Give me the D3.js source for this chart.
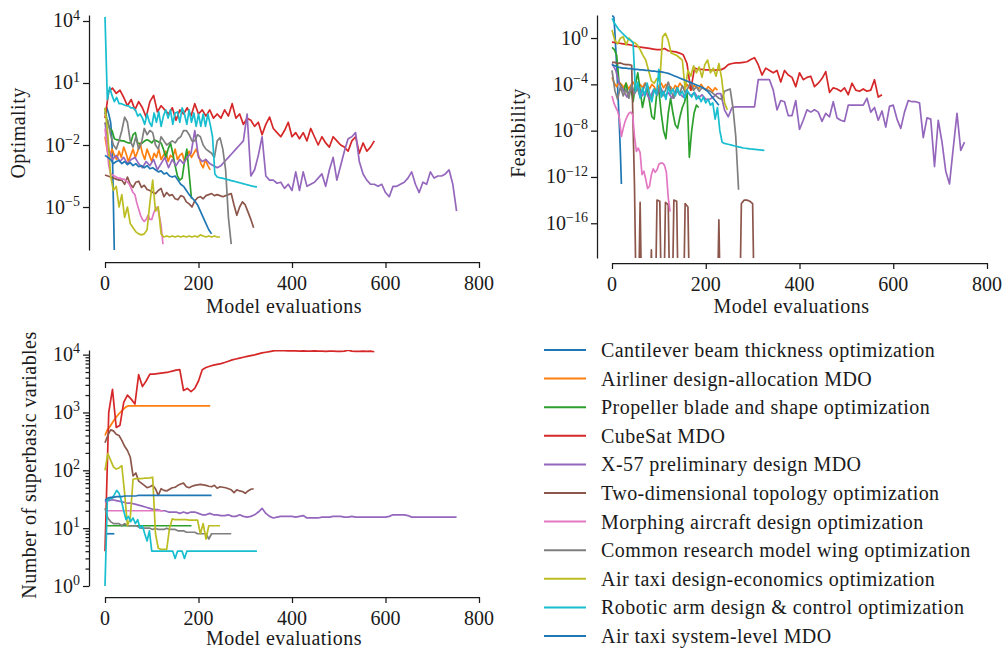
<!DOCTYPE html>
<html>
<head>
<meta charset="utf-8">
<script src="https://cdn.jsdelivr.net/npm/d3@7/dist/d3.min.js"></script>
<style>
  body { margin: 0; background: #fff; }
  svg text { font-family: "Liberation Serif", "DejaVu Serif", serif; fill: #1a1a1a; }
</style>
</head>
<body>
<div id="chart"></div>
<script>
// legend order = drawing order
var problems = [
  "Cantilever beam thickness optimization",
  "Airliner design-allocation MDO",
  "Propeller blade and shape optimization",
  "CubeSat MDO",
  "X-57 preliminary design MDO",
  "Two-dimensional topology optimization",
  "Morphing aircraft design optimization",
  "Common research model wing optimization",
  "Air taxi design-economics optimization",
  "Robotic arm design & control optimization",
  "Air taxi system-level MDO"
];
var colors = ["#1f77b4", "#ff7f0e", "#2ca02c", "#d62728", "#9467bd", "#8c564b",
              "#e377c2", "#7f7f7f", "#bcbd22", "#17becf", "#1f77b4"];
// model evaluations between two stored samples of each problem
var sampleStep = [2, 5, 5, 8, 8, 6, 4, 6, 6, 5, 6];

var xTicks = [0, 200, 400, 600, 800];

// exactly zero feasibility (log10 -> off the bottom of the axis)
var Z = -30;

// ---- optimality, log10 ----
var cantileverOpt = [-0.5,-0.3,-0.2,-0.35,-0.5,-0.7,-0.9,-1.4,-2.6,-4.8,-7.3];
var airlinerOpt = [-1.6,-2.3,-2.6,-2.2,-2.5,-2.7,-2.3,-2.6,-2.1,-2.4,-2.8,-2.5,-2.2,-2.6,-2.3,-1.9,-2.4,-2.7,-2.2,-2.5,
  -2.8,-2.4,-2.6,-2.2,-2.7,-2.5,-2.3,-2.8,-2.5,-2.6,-2.2,-2.7,-2.5,-2.4,-2.8,-2.6,-2.3,-2.6,-2.4,-2.2,-2.5,-2.9,-3.1,-2.7,-3.0,-3.2];
var propellerOpt = [-0.2,-0.9,-1.2,-1.3,-1.7,-1.75,-1.75,-1.8,-1.8,-1.85,-1.9,-1.9,-1.5,-1.4,-1.9,-1.95,-1.9,-1.8,-1.75,-1.8,
  -1.9,-1.75,-1.8,-1.85,-1.9,-2.2,-2.6,-2.2,-1.9,-2.4,-3.0,-3.5,-3.7,-3.6,-2.8,-2.2,-3.4,-4.6];
var cubesatOpt = [-0.7,0.6,0.75,0.5,0.65,0.3,-0.1,0.2,-0.3,0.1,-0.2,-0.65,0.1,0.4,-0.4,-0.1,-0.3,-0.5,-0.2,-0.8,
  -0.3,-0.5,-0.2,-0.6,0.0,-0.5,-0.3,-0.6,-0.3,-0.7,-0.5,-0.7,-0.3,-0.6,0.0,-0.7,-0.5,-1.0,-0.7,-0.8,
  -1.1,-0.9,-1.5,-1.0,-0.65,-1.2,-1.4,-1.6,-1.3,-0.9,-1.6,-1.4,-1.7,-1.4,-1.8,-1.2,-1.6,-2.0,-1.6,-1.9,
  -2.1,-1.6,-1.8,-2.0,-2.1,-2.3,-1.8,-1.6,-2.4,-1.9,-2.3,-2.1,-1.8];
var x57Opt = [-0.9,-2.2,-2.7,-2.5,-2.8,-2.6,-2.9,-2.7,-2.6,-2.9,-3.1,-2.8,-3.0,-2.7,-3.2,-2.9,-2.6,-3.1,-2.7,-3.0,
  -2.7,-2.9,-2.6,-2.4,-1.3,-2.6,-2.8,-2.7,-2.9,-3.0,-3.1,-3.0,-2.8,-2.6,-2.4,-2.2,-2.0,-1.8,-0.5,-3.5,
  -3.2,-2.5,-1.6,-3.5,-3.7,-3.7,-3.85,-3.8,-4.1,-3.9,-4.2,-3.3,-4.2,-3.3,-4.0,-3.9,-3.8,-3.6,-3.4,-4.0,
  -3.2,-2.6,-3.7,-3.0,-2.3,-1.7,-1.6,-1.4,-2.8,-3.4,-3.7,-3.9,-3.9,-4.0,-3.9,-4.3,-4.5,-4.0,-4.0,-3.9,
  -3.8,-3.6,-3.3,-3.9,-4.3,-3.8,-3.9,-3.3,-3.6,-3.5,-3.5,-3.4,-3.2,-3.9,-5.2];
var topologyOpt = [-3.45,-3.5,-3.55,-3.6,-3.65,-3.7,-3.7,-3.9,-3.55,-3.9,-4.05,-3.8,-3.75,-4.05,-3.95,-4.15,-4.2,-4.3,-4.35,-4.2,
  -4.1,-4.5,-4.3,-4.45,-4.4,-4.6,-4.65,-4.45,-4.5,-4.75,-4.85,-5.0,-4.7,-4.55,-4.5,-4.6,-4.45,-4.4,-4.35,-4.45,
  -4.4,-4.45,-4.5,-4.45,-4.4,-4.35,-4.9,-5.4,-5.0,-4.75,-4.9,-5.25,-5.6,-6.0];
var morphingOpt = [-1.2,-2.0,-3.0,-3.4,-3.45,-3.5,-3.55,-3.6,-3.6,-3.65,-3.65,-3.7,-3.8,-3.9,-4.1,-4.3,-4.4,-4.8,-5.1,-5.4,
  -5.6,-5.7,-5.6,-5.4,-5.6,-5.6,-5.3,-5.1,-5.0,-5.4,-5.9,-6.8];
var crmOpt = [-1.0,-0.8,-1.5,-2.0,-2.2,-1.8,-1.3,-0.65,-0.9,-1.8,-2.1,-1.6,-2.2,-1.9,-1.2,-1.5,-1.3,-1.4,-2.0,-2.2,
  -1.6,-1.8,-2.0,-1.9,-1.8,-1.9,-1.7,-1.6,-1.3,-1.3,-1.5,-1.8,-1.8,-1.5,-1.6,-2.0,-2.2,-2.3,-2.4,-2.6,
  -1.8,-1.65,-2.2,-3.2,-5.5,-6.8];
var airTaxiDesignOpt = [-0.2,-1.5,-3.5,-4.2,-4.0,-5.0,-4.4,-5.5,-5.0,-5.8,-6.0,-6.2,-6.3,-6.35,-6.3,-6.1,-4.8,-3.7,-5.2,-5.0,
  -6.3,-6.45,-6.4,-6.45,-6.4,-6.45,-6.4,-6.45,-6.4,-6.45,-6.4,-6.45,-6.4,-6.45,-6.35,-6.4,-6.45,-6.4,-6.45,-6.4,-6.45,-6.45];
var roboticOpt = [4.2,0.2,0.8,0.4,0.1,0.3,0.0,0.0,-0.05,-0.1,-0.1,-0.2,-0.2,-0.3,-0.6,-0.5,-0.7,-1.0,-0.5,-0.9,
  -1.1,-0.45,-0.9,-0.4,-1.1,-0.6,-0.3,-0.7,-0.3,-1.0,-0.45,-0.4,-0.9,-0.2,-0.5,-1.0,-0.3,-0.9,-0.45,-1.1,
  -0.5,-1.1,-0.5,-1.1,-0.5,-1.0,-1.6,-3.4,-3.55,-3.58,-3.6,-3.63,-3.66,-3.69,-3.72,-3.75,-3.78,-3.81,-3.84,-3.87,
  -3.9,-3.93,-3.96,-3.99,-4.01,-4.03];
var airTaxiSystemOpt = [-2.5,-2.6,-2.7,-2.9,-2.8,-2.75,-2.9,-2.8,-2.95,-2.85,-3.0,-2.9,-3.05,-3.0,-3.1,-3.0,-3.15,-3.1,-3.2,-3.3,
  -3.25,-3.4,-3.35,-3.5,-3.55,-3.5,-3.7,-3.9,-4.0,-4.2,-4.4,-4.55,-4.7,-4.9,-5.2,-5.5,-5.8,-6.1,-6.3];

// ---- feasibility, log10 ----
var cantileverFeas = [1.9,1.9,1.8,0.6,-0.9,-2.5,-4.2,-6.0,-7.9,-10.0,-12.6];
var airlinerFeas = [-3.4,-3.9,-4.2,-3.8,-4.0,-4.3,-3.9,-4.4,-4.1,-3.8,-4.2,-4.5,-4.0,-4.3,-3.9,-4.1,-4.4,-4.0,-4.2,-4.6,
  -4.1,-3.9,-4.3,-4.0,-4.4,-4.2,-4.5,-4.1,-4.3,-3.9,-4.2,-4.4,-4.0,-4.3,-4.5,-4.1,-4.2,-4.4,-4.0,-4.3,-4.5,-4.2,-4.4,-4.6,-4.3,-4.5];
var propellerFeas = [-0.8,-1.0,-1.5,-3.8,-4.2,-4.6,-3.9,-5.0,-4.3,-5.5,-4.0,-3.0,-4.5,-6.0,-5.0,-4.2,-5.5,-6.8,-7.0,-5.0,
  -4.5,-6.5,-8.0,-8.7,-6.5,-5.2,-6.5,-7.5,-7.8,-6.8,-6.0,-5.5,-4.5,-10.3,-8.0,-6.5,-5.8,-6.0];
var cubesatFeas = [-0.35,-0.4,-0.45,-0.5,-0.55,-0.6,-0.7,-0.75,-0.8,-0.85,-0.9,-0.95,-1.0,-1.0,-0.9,-1.1,-1.15,-1.2,-1.3,-1.45,
  -2.2,-4.5,-2.6,-2.7,-2.7,-2.75,-2.75,-2.8,-2.75,-2.75,-2.6,-2.3,-2.2,-2.15,-2.15,-2.1,-2.05,-1.85,-1.7,-2.3,
  -3.2,-2.6,-2.8,-3.0,-2.8,-3.8,-2.8,-3.2,-3.4,-4.2,-3.0,-3.6,-3.4,-3.3,-4.2,-3.9,-3.5,-2.9,-4.7,-4.3,
  -4.4,-4.6,-4.3,-4.9,-3.9,-4.5,-4.6,-4.4,-4.6,-4.5,-3.6,-5.1,-4.9];
var x57Feas = [-2.2,-2.8,-4.0,-4.5,-5.1,-4.4,-4.8,-4.2,-5.0,-4.6,-5.3,-4.5,-4.9,-4.3,-5.0,-4.7,-5.2,-4.5,-4.8,-5.1,
  -4.6,-5.0,-4.7,-5.2,-4.9,-5.3,-5.3,-5.1,-4.8,-4.8,-6.2,-6.8,-6.0,-5.95,-5.95,-5.95,-5.95,-5.95,-5.95,-3.6,
  -3.6,-3.6,-3.6,-4.5,-6.2,-5.4,-5.5,-6.7,-6.7,-5.4,-7.9,-7.1,-6.2,-6.4,-6.2,-6.4,-7.2,-6.5,-6.8,-5.5,
  -6.9,-7.1,-7.2,-5.8,-5.8,-5.8,-5.8,-5.8,-5.2,-6.4,-6.0,-7.1,-6.3,-7.7,-5.9,-5.8,-7.0,-7.8,-6.4,-5.4,
  -5.5,-5.5,-5.6,-8.6,-6.9,-7.0,-11.1,-7.1,-9.0,-11.5,-12.6,-9.5,-6.5,-9.7,-9.0];
var topologyFeas = [-2.1,-2.1,-2.2,-2.15,-2.25,-2.3,-2.3,-2.35,-12.8,Z,-14.2,Z,Z,Z,-18.3,Z,-14.0,-14.1,Z,-14.2,
  -14.4,Z,-14.0,-14.1,Z,Z,-14.3,-14.6,Z,Z,Z,Z,Z,Z,Z,Z,Z,Z,-15.7,Z,
  Z,Z,Z,Z,Z,Z,-14.3,-14.0,-14.0,-14.1,-14.3,Z,Z,Z];
var morphingFeas = [-5.0,-5.6,-6.0,-6.3,-7.0,-8.5,-7.8,-7.2,-6.8,-6.5,-6.4,-6.6,-8.5,-9.8,-9.5,-9.9,-11.8,-11.5,-12.2,-13.0,
  -12.8,-11.8,-11.3,-11.6,-11.4,-10.9,-10.8,-10.8,-11.0,-11.6,-13.8,-15.0];
var crmFeas = [-2.8,-4.5,-5.3,-4.2,-5.0,-4.4,-5.2,-4.0,-4.8,-4.3,-5.1,-4.5,-3.9,-4.6,-5.3,-4.4,-4.8,-4.2,-5.0,-4.5,
  -3.8,-4.6,-5.2,-4.3,-4.9,-4.1,-4.7,-4.3,-3.8,-4.5,-4.2,-4.6,-4.3,-4.4,-4.5,-4.6,-4.8,-5.0,-5.2,-5.3,
  -4.6,-4.5,-4.4,-6.0,-8.5,-13.1];
var airTaxiDesignFeas = [0.7,-0.2,-0.5,0.0,0.1,-0.6,0.0,-0.3,-0.4,-0.6,-1.0,-1.5,-1.9,-2.8,-3.7,-3.9,-3.5,-3.7,0.1,0.4,
  -0.2,-1.3,-1.4,-1.5,-1.7,-1.9,-4.4,-2.8,-3.3,-2.4,-3.0,-2.5,-3.4,-2.3,-1.9,-3.0,-2.6,-3.3,-2.2,-3.5,-5.6,-6.2];
var roboticFeas = [1.7,1.3,1.0,0.7,0.5,0.3,0.1,-0.1,-0.2,-0.4,-4.6,-3.8,-5.2,-4.3,-5.0,-3.9,-4.8,-5.5,-4.4,-4.9,
  -2.7,-5.1,-4.6,-5.3,-4.2,-4.8,-4.4,-5.0,-4.3,-4.9,-4.6,-5.2,-4.5,-4.8,-5.1,-4.7,-5.3,-5.0,-5.5,-5.1,
  -5.6,-5.3,-5.8,-5.6,-7.0,-6.0,-8.0,-9.0,-9.1,-9.15,-9.2,-9.25,-9.3,-9.35,-9.4,-9.45,-9.5,-9.52,-9.55,-9.58,
  -9.6,-9.62,-9.64,-9.66,-9.68,-9.7];
var airTaxiSystemFeas = [-2.3,-2.4,-2.5,-2.55,-2.6,-2.6,-2.65,-2.65,-2.7,-2.7,-2.75,-2.75,-2.8,-2.8,-2.85,-2.85,-2.9,-2.9,-2.95,-3.0,
  -3.05,-3.15,-3.25,-3.35,-3.45,-3.55,-3.65,-3.75,-3.85,-3.95,-4.05,-4.15,-4.25,-4.4,-4.6,-4.9,-5.2,-5.5,-5.8];

// ---- number of superbasic variables ----
var cantileverSb = [8,8,8,8,8,8,8,8,8,8,8];
var airlinerSb = [400,500,560,650,750,850,950,1050,1150,1250,1300,1300,1300,1300,1300,1300,1300,1300,1300,1300,
  1300,1300,1300,1300,1300,1300,1300,1300,1300,1300,1300,1300,1300,1300,1300,1300,1300,1300,1300,1300,1300,1300,1300,1300,1300,1300];
var propellerSb = [11,11,11,11,11,11,11,11,11,11,11,11,11,11,11,11,11,11,11,11,11,11,11,11,11,11,11,11,11,11,11,11,11,11,11,11,11,11];
var cubesatSb = [4,1000,2500,550,600,1500,2000,1700,1400,4500,2800,3500,4600,4600,4700,4800,4900,5000,5200,5400,
  5500,2400,2600,2300,2600,3500,5500,6000,6300,6600,6800,7000,7300,7700,8100,8400,8700,9000,9300,9600,
  9900,10300,10700,11000,11300,11600,11800,11700,11700,11600,11600,11600,11500,11600,11500,11500,11600,11500,11500,11400,
  11500,11500,11400,11400,11500,11900,11500,11400,11400,11500,11400,11500,11200];
var x57Sb = [28,30,31,30,29,28,27,27,26,25,24,23,22,21,21,20,20,19,19,19,
  18,19,18,19,19,18,17,17,18,17,17,16.5,16.5,17,16,16,17,16,15.5,16,
  17,19,22,18,16,15,15.5,16,16,16,16,15.5,16,16.5,15,15,15,15,15.5,15.5,
  15.5,16,16,16,15.5,15.5,16,15.5,15.5,15.5,15.5,15.5,15.5,15.5,15.5,15.5,16,17,17,17,
  17,16.5,15.5,15.5,15.5,15.5,15.5,15.5,15.5,15.5,15.5,15.5,15.5,15.5,15.5];
var topologySb = [300,400,500,480,420,400,330,260,220,170,80,90,65,60,55,50,52,55,48,37,
  48,45,44,47,50,51,55,58,60,52,50,53,55,56,57,56,55,53,52,55,
  49,52,51,50,48,46,41,46,44,43,40,44,47,48];
var morphingSb = [20,20,20,20,20,20,20,20,20,20,20,20,20,20,20,20,20,20,20,20,20,20,20,20,20,20,20,20,20,20,20,20];
var crmSb = [22,15,13,12,12,12,11,12,11,11,11,11,10.5,10,10,10,10,9.5,10,9.5,
  9.5,9.5,10,9.5,9.5,9.5,9,9,9,8.5,8.5,8.5,8.5,8,8,8,8,6.5,8,8,8,8,8,8,8,8];
var airTaxiDesignSb = [100,195,150,115,105,110,120,40,11,15,70,72,72,72,73,73,74,76,8,4.5,
  4.3,4.3,4.3,10,14.5,14,14,14,14,14,13.8,13.8,13.8,13.8,8,12,6.5,11,11,11,11,11];
var roboticSb = [1,30,32,33,38,45,40,30,20,14,16,13,15,12,14,10,11,8,6,9,
  4,4,4,4,4,4,4,4,4,4,3,4,4,4,3,4,4,4,4,4,
  4,4,4,4,4,4,4,4,4,4,4,4,4,4,4,4,4,4,4,4,4,4,4,4,4,4];
var airTaxiSystemSb = [30,33,34,34,35,35,35,36,36,36,36,36,37,37,37,37,37,37,37,37,
  37,37,37,37,37,37,37,37,37,37,37,37,37,37,37,37,37,37,37];

var optLog = [cantileverOpt, airlinerOpt, propellerOpt, cubesatOpt, x57Opt, topologyOpt,
              morphingOpt, crmOpt, airTaxiDesignOpt, roboticOpt, airTaxiSystemOpt];
var feasLog = [cantileverFeas, airlinerFeas, propellerFeas, cubesatFeas, x57Feas, topologyFeas,
               morphingFeas, crmFeas, airTaxiDesignFeas, roboticFeas, airTaxiSystemFeas];
var superbasic = [cantileverSb, airlinerSb, propellerSb, cubesatSb, x57Sb, topologySb,
                  morphingSb, crmSb, airTaxiDesignSb, roboticSb, airTaxiSystemSb];

var svg = d3.select("#chart").append("svg")
  .attr("width", 1003)
  .attr("height", 650);

var ink = "#1a1a1a";
var fontSize = 20;
var spacing = "0.45px";   // widen Liberation Serif toward Computer Modern

function sup(d) {
  var e = Math.round(Math.log10(d));
  return e < 0 ? "\u2212" + (-e) : "" + e;
}

function drawPanel(p) {
  var x = d3.scaleLinear().domain([0, 800]).range([p.left, p.right]);
  var y = d3.scaleLog().domain(p.yDomain).range([p.bottom, p.top]);

  svg.append("clipPath").attr("id", "clip-" + p.id)
    .append("rect")
      .attr("x", p.left - 5).attr("y", p.top)
      .attr("width", p.right - p.left + 10).attr("height", p.bottom - p.top);

  var line = d3.line()
    .x(function(d) { return x(d[0]); })
    .y(function(d) { return y(d[1]); });

  var g = svg.append("g").attr("clip-path", "url(#clip-" + p.id + ")");
  p.values.forEach(function(vals, i) {
    var pts = vals.map(function(v, k) {
      return [k * sampleStep[i], p.logValues ? Math.pow(10, v) : v];
    });
    g.append("path")
      .datum(pts)
      .attr("d", line)
      .attr("fill", "none")
      .attr("stroke", colors[i])
      .attr("stroke-width", 1.7)
      .attr("stroke-linejoin", "round");
  });

  // y axis, spine offset to the left
  svg.append("g")
    .attr("transform", "translate(" + p.spineX + ",0)")
    .call(d3.axisLeft(y).tickValues(p.yTicks).tickSize(6).tickSizeOuter(0).tickFormat(""));
  if (p.minor) {
    svg.append("g")
      .attr("transform", "translate(" + p.spineX + ",0)")
      .call(d3.axisLeft(y).tickValues(p.minor).tickSize(3.5).tickFormat(""))
      .call(function(a) { a.select(".domain").remove(); });
  }

  p.yTicks.forEach(function(t) {
    var lab = svg.append("text")
      .attr("x", p.spineX - 9)
      .attr("y", y(t) + 6.5)
      .attr("text-anchor", "end")
      .style("font-size", fontSize + "px");
    lab.append("tspan").text("10");
    lab.append("tspan").attr("dy", "-0.55em").style("font-size", "14px").text(sup(t));
  });

  // x axis, spine offset downwards
  svg.append("g")
    .attr("transform", "translate(0," + p.spineY + ")")
    .call(d3.axisBottom(x).tickValues(xTicks).tickSize(6).tickSizeOuter(0).tickFormat(""));
  svg.selectAll(".domain, .tick line").attr("stroke", ink).attr("stroke-width", 1.25);

  xTicks.forEach(function(t) {
    svg.append("text")
      .attr("x", x(t))
      .attr("y", p.spineY + 28)
      .attr("text-anchor", "middle")
      .style("font-size", fontSize + "px")
      .text(t);
  });

  svg.append("text")
    .attr("x", p.xLabelX)
    .attr("y", p.spineY + p.xLabelGap)
    .attr("text-anchor", "middle")
    .style("font-size", fontSize + "px")
    .style("letter-spacing", spacing)
    .text("Model evaluations");

  svg.append("text")
    .attr("transform", "translate(" + p.yLabelX + "," + p.yLabelY + ") rotate(-90)")
    .attr("text-anchor", "middle")
    .style("font-size", fontSize + "px")
    .style("letter-spacing", spacing)
    .text(p.yLabel);
}

var minorTicks = [];
[1, 10, 100, 1000].forEach(function(dec) {
  for (var k = 2; k <= 9; k++) minorTicks.push(k * dec);
});

drawPanel({
  id: "opt", values: optLog, logValues: true,
  left: 105, right: 479, top: 15, bottom: 250,
  yDomain: [Math.pow(10, -7.08), Math.pow(10, 4.29)],
  yTicks: [1e4, 1e1, 1e-2, 1e-5],
  spineX: 89, spineY: 262, xLabelX: 284, xLabelGap: 51,
  yLabel: "Optimality", yLabelX: 24.5, yLabelY: 133
});

drawPanel({
  id: "feas", values: feasLog, logValues: true,
  left: 612, right: 987, top: 15, bottom: 258,
  yDomain: [1e-19, Math.pow(10, 1.99)],
  yTicks: [1e0, 1e-4, 1e-8, 1e-12, 1e-16],
  spineX: 597, spineY: 263, xLabelX: 791.5, xLabelGap: 50,
  yLabel: "Feasibility", yLabelX: 524.5, yLabelY: 133
});

drawPanel({
  id: "sb", values: superbasic, logValues: false,
  left: 105, right: 479, top: 350, bottom: 586,
  yDomain: [1, Math.pow(10, 4.08)],
  yTicks: [1, 10, 100, 1000, 10000],
  minor: minorTicks,
  spineX: 89, spineY: 597, xLabelX: 284, xLabelGap: 48,
  yLabel: "Number of superbasic variables", yLabelX: 36, yLabelY: 465
});

// legend
var legend = svg.append("g").attr("transform", "translate(544,350)");
problems.forEach(function(name, i) {
  var row = legend.append("g").attr("transform", "translate(0," + (i * 28.6) + ")");
  row.append("line")
    .attr("x1", 0).attr("x2", 42)
    .attr("stroke", colors[i]).attr("stroke-width", 2);
  row.append("text")
    .attr("x", 57).attr("y", 7)
    .style("font-size", fontSize + "px")
    .style("letter-spacing", spacing)
    .text(name);
});
</script>
</body>
</html>
